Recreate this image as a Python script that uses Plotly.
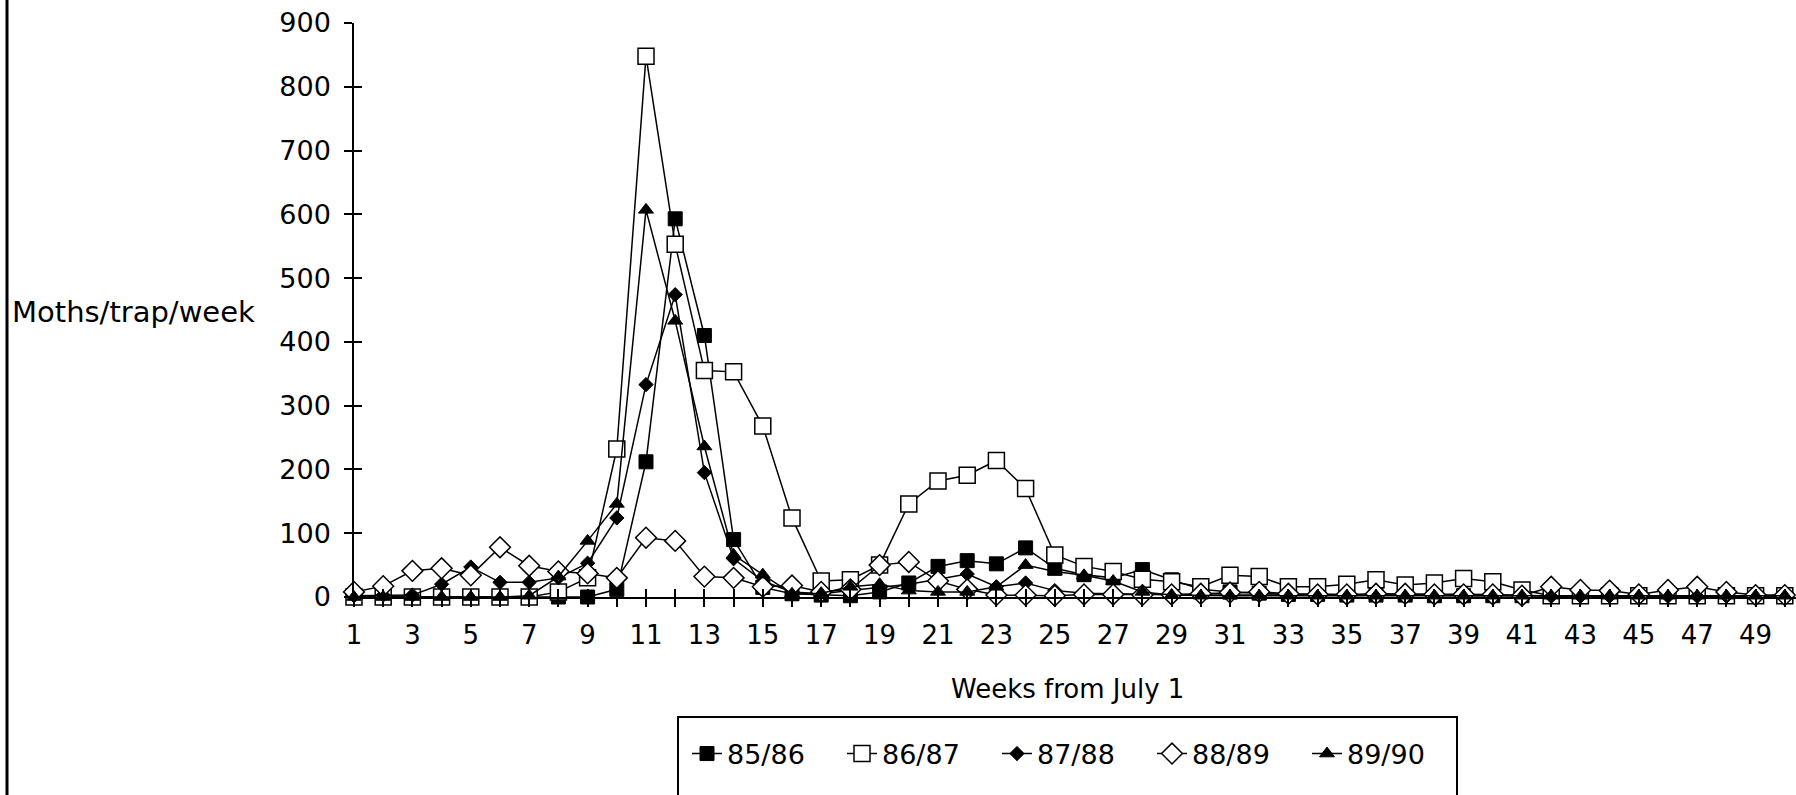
import plotly.graph_objects as go

# ---------------- data ----------------
weeks = list(range(1, 51))
week_labels = [str(w) if w % 2 == 1 else "" for w in weeks]
y_ticks = [0, 100, 200, 300, 400, 500, 600, 700, 800, 900]

s85_86 = [0, 0, 0, 0, 0, 0, 0, 0, 0, 12,
          212, 593, 410, 90, 15, 5, 3, 2, 8, 22,
          48, 57, 52, 77, 45, 35, 30, 43, 27, 12,
          8, 6, 4, 4, 3, 3, 3, 2, 2, 2,
          2, 2, 2, 2, 2, 2, 2, 2, 2, 2]
s86_87 = [0, 0, 0, 0, 0, 0, 0, 8, 30, 232,
          848, 553, 355, 353, 268, 124, 25, 27, 50, 146,
          182, 191, 214, 170, 66, 48, 40, 28, 24, 16,
          34, 32, 16, 16, 20, 27, 19, 22, 29, 24,
          11, 2, 2, 2, 2, 2, 2, 2, 2, 2]
s87_88 = [2, 3, 3, 20, 47, 23, 23, 30, 53, 124,
          333, 474, 195, 60, 25, 8, 5, 10, 15, 20,
          28, 36, 16, 22, 10, 6, 5, 4, 3, 3,
          3, 3, 3, 3, 3, 3, 3, 3, 3, 3,
          3, 1, 1, 1, 1, 1, 1, 1, 1, 1]
s88_89 = [8, 17, 41, 45, 34, 78, 49, 40, 37, 30,
          93, 88, 32, 30, 16, 18, 8, 12, 50, 55,
          25, 12, 3, 3, 2, 4, 4, 3, 4, 5,
          7, 8, 5, 4, 4, 5, 5, 4, 4, 4,
          2, 16, 11, 10, 4, 11, 16, 8, 3, 3]
s89_90 = [0, 0, 0, 0, 0, 0, 2, 32, 88, 146,
          607, 433, 236, 66, 35, 5, 6, 16, 20, 10,
          8, 8, 16, 50, 40, 34, 25, 8, 3, 2,
          2, 2, 2, 2, 2, 2, 2, 2, 2, 2,
          2, 2, 2, 2, 2, 2, 2, 2, 2, 2]

series_names = ["85/86", "86/87", "87/88", "88/89", "89/90"]
series_values = [s85_86, s86_87, s87_88, s88_89, s89_90]

# ---------------- styles ----------------
styles = [
    dict(symbol="square", size=14, color="black", line=dict(color="black", width=1)),
    dict(symbol="square", size=16, color="white", line=dict(color="black", width=1.5)),
    dict(symbol="diamond", size=11, color="black", line=dict(color="black", width=1)),
    dict(symbol="diamond", size=16, color="white", line=dict(color="black", width=1.5)),
    dict(symbol="triangle-up", size=13, color="black", line=dict(color="black", width=1)),
]

W, H = 1796, 795
L, R, T, B = 354, 0, 23, 198
pw, ph = W - L - R, H - T - B
px_per_week = 29.2
x_range = [1, 1 + pw / px_per_week]


def px(xp):
    return (xp - L) / pw


def py(yp):
    return (H - B - yp) / ph


FONT = "DejaVu Sans"

fig = go.Figure()
for name, vals, st in zip(series_names, series_values, styles):
    fig.add_trace(go.Scatter(
        x=weeks, y=vals, name=name, mode="lines+markers",
        line=dict(color="black", width=1.5),
        marker=st, cliponaxis=False,
    ))

# invisible trace for overlay axes (crossing ticks)
fig.add_trace(go.Scatter(x=[None], y=[None], xaxis="x2", yaxis="y2",
                         showlegend=False, hoverinfo="skip"))

fig.update_layout(
    width=W, height=H,
    margin=dict(l=L, r=R, t=T, b=B, pad=0),
    paper_bgcolor="white", plot_bgcolor="white",
    font=dict(family=FONT, color="black", size=27),
    xaxis=dict(
        range=x_range, tickmode="array", tickvals=weeks, ticktext=week_labels,
        ticks="outside", ticklen=8, tickwidth=1.5, tickcolor="black",
        showline=True, linecolor="black", linewidth=1.5,
        showgrid=False, zeroline=False,
        tickfont=dict(family=FONT, size=26, color="black"),
        ticklabelstandoff=6,
    ),
    yaxis=dict(
        range=[0, 900], tickmode="array", tickvals=y_ticks,
        ticks="outside", ticklen=8, tickwidth=1.5, tickcolor="black",
        showline=True, linecolor="black", linewidth=1.5,
        showgrid=False, zeroline=False,
        tickfont=dict(family=FONT, size=27, color="black"),
        ticklabelstandoff=8,
    ),
    xaxis2=dict(
        range=x_range, overlaying="x", anchor="y2", tickmode="array", tickvals=weeks,
        ticks="inside", ticklen=8, tickwidth=1.5, tickcolor="black",
        showticklabels=False, showline=False, showgrid=False, zeroline=False,
    ),
    yaxis2=dict(
        range=[0, 900], overlaying="y", anchor="x2", tickmode="array", tickvals=y_ticks,
        ticks="inside", ticklen=8, tickwidth=1.5, tickcolor="black",
        showticklabels=False, showline=False, showgrid=False, zeroline=False,
    ),
    showlegend=True,
    legend=dict(
        orientation="h", x=px(687), xanchor="left", y=py(754), yanchor="middle",
        entrywidth=110, entrywidthmode="pixels",
        font=dict(family=FONT, size=27, color="black"),
        bgcolor="rgba(0,0,0,0)", borderwidth=0, traceorder="normal",
    ),
    annotations=[
        dict(text="Moths/trap/week", xref="paper", yref="paper",
             x=px(10), y=py(312), xanchor="left", yanchor="middle",
             showarrow=False, font=dict(family=FONT, size=29, color="black")),
        dict(text="Weeks from July 1", xref="paper", yref="paper",
             x=px(1067), y=py(689), xanchor="center", yanchor="middle",
             showarrow=False, font=dict(family=FONT, size=26, color="black")),
    ],
    shapes=[
        # legend frame
        dict(type="rect", xref="paper", yref="paper",
             x0=px(678), x1=px(1457), y0=py(717), y1=py(805),
             line=dict(color="black", width=2), fillcolor="rgba(0,0,0,0)"),
        # left page frame line
        dict(type="line", xref="paper", yref="paper",
             x0=px(7), x1=px(7), y0=py(0), y1=py(795),
             line=dict(color="black", width=3)),
    ],
)

fig.write_html(
    "out.html",
    config={"displayModeBar": False},
    post_script="document.body.style.margin='0';document.body.style.overflow='hidden';",
)
